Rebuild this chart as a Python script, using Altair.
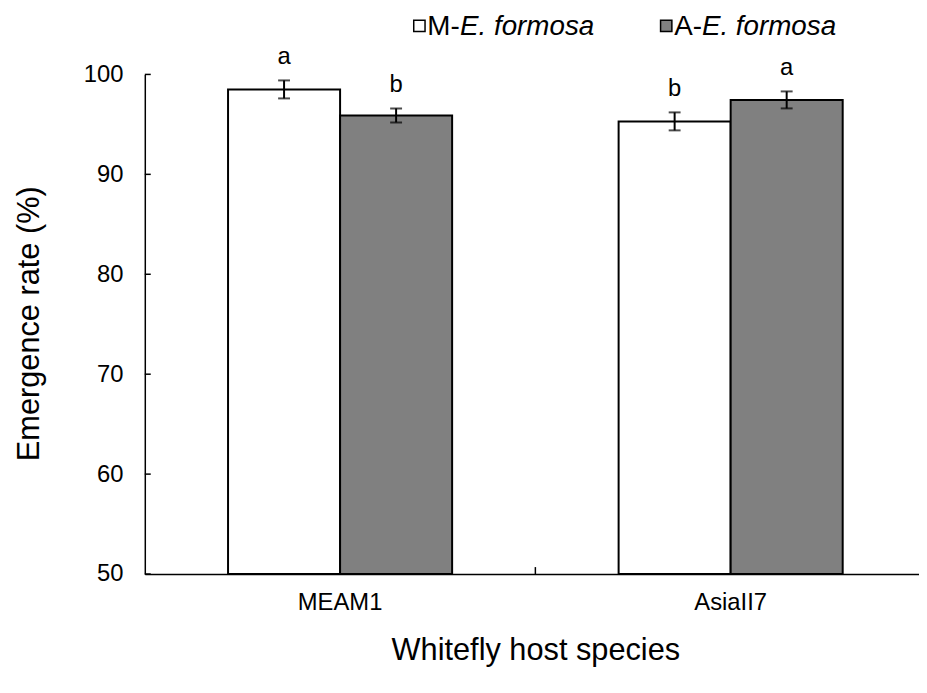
import altair as alt
import pandas as pd

hosts = ["MEAM1", "AsiaII7"]
strains = ["M-E. formosa", "A-E. formosa"]
host_col = ["MEAM1", "MEAM1", "AsiaII7", "AsiaII7"]
strain_col = ["M-E. formosa", "A-E. formosa", "M-E. formosa", "A-E. formosa"]
means = [98.5, 95.9, 95.3, 97.45]
errs = [0.9, 0.7, 0.9, 0.85]
letters = ["a", "b", "b", "a"]
y_ticks = [50, 60, 70, 80, 90, 100]
fills = ["white", "#808080"]
leg_prefix = ["M-", "A-"]
leg_species = ["E. formosa", "E. formosa"]

FONT = "Liberation Sans"

df = pd.DataFrame({
    "host": host_col,
    "strain": strain_col,
    "mean": means,
    "err": errs,
    "letter": letters,
})
df["lo"] = df["mean"] - df["err"]
df["hi"] = df["mean"] + df["err"]
df["base"] = 50

W, H = 773, 504
RANGE_W = 788

xs = alt.Scale(domain=hosts, range=[0, RANGE_W], paddingInner=0, paddingOuter=0)
xo = alt.Scale(domain=strains, paddingInner=0, paddingOuter=0.743)
ys = alt.Scale(domain=[50, 100], zero=False, nice=False)

x_enc = alt.X("host:N", scale=xs, sort=hosts,
              axis=alt.Axis(title="Whitefly host species", labelAngle=0, labelFontSize=24,
                            labelPadding=17, ticks=False, tickSize=0, domainColor="black",
                            domainWidth=1.5, labelColor="black", labelFont=FONT,
                            titleFont=FONT, titleFontSize=31, titleFontWeight="normal",
                            titleColor="black", titleX=394, titleY=77,
                            titleBaseline="middle", titleAlign="center"))
xo_enc = alt.XOffset("strain:N", scale=xo, sort=strains)

base = alt.Chart(df)

bars = base.mark_bar(stroke="black", strokeWidth=2).encode(
    x=x_enc,
    xOffset=xo_enc,
    y=alt.Y("mean:Q", scale=ys,
            axis=alt.Axis(title="Emergence rate (%)", values=y_ticks, grid=False,
                          ticks=False, tickSize=0, labelFontSize=24, labelPadding=22,
                          domainColor="black", domainWidth=1.5, labelColor="black",
                          labelFont=FONT, titleFont=FONT, titleFontSize=31,
                          titleFontWeight="normal", titleColor="black",
                          titleX=-116, titleY=251, titleAngle=-90,
                          titleBaseline="middle", titleAlign="center")),
    y2=alt.Y2("base:Q"),
    fill=alt.Fill("strain:N", scale=alt.Scale(domain=strains, range=fills), legend=None),
)

err_rule = base.mark_rule(color="black", strokeWidth=2).encode(
    x=alt.X("host:N", scale=xs, sort=hosts),
    xOffset=xo_enc,
    y=alt.Y("lo:Q", scale=ys),
    y2="hi:Q",
)
cap_lo = base.mark_tick(color="black", thickness=2, size=12, orient="horizontal").encode(
    x=alt.X("host:N", scale=xs, sort=hosts),
    xOffset=xo_enc,
    y=alt.Y("lo:Q", scale=ys),
)
cap_hi = base.mark_tick(color="black", thickness=2, size=12, orient="horizontal").encode(
    x=alt.X("host:N", scale=xs, sort=hosts),
    xOffset=xo_enc,
    y=alt.Y("hi:Q", scale=ys),
)
letter_txt = base.mark_text(font=FONT, fontSize=24, color="black", baseline="alphabetic",
                            dy=-17).encode(
    x=alt.X("host:N", scale=xs, sort=hosts),
    xOffset=xo_enc,
    y=alt.Y("hi:Q", scale=ys),
    text="letter:N",
)

# inward y-axis ticks
ytick_df = pd.DataFrame({"v": y_ticks})
ytick_rules = alt.Chart(ytick_df).mark_rule(color="black", strokeWidth=1.5).encode(
    y=alt.Y("v:Q", scale=ys),
    x=alt.value(0),
    x2=alt.value(6),
)
# inward x-axis tick at the category boundary
xtick_rule = alt.Chart(pd.DataFrame({"k": [0]})).mark_rule(color="black", strokeWidth=1.5).encode(
    x=alt.value(394), y=alt.value(H), y2=alt.value(H - 7),
)

# manual legend (square + plain prefix + italic species name)
leg_layers = []
sq_x = [277, 526]
prefix_w = [33, 28]
LEG_Y = -49
for i in range(2):
    ldf = pd.DataFrame({"p": [leg_prefix[i]], "s": [leg_species[i]]})
    sq = alt.Chart(ldf).mark_square(size=130, filled=True, stroke="black", strokeWidth=1.5,
                                   fill=fills[i], opacity=1).encode(
        x=alt.value(sq_x[i]), y=alt.value(LEG_Y))
    t1 = alt.Chart(ldf).mark_text(font=FONT, fontSize=28, color="black", align="left",
                                 baseline="middle").encode(
        x=alt.value(sq_x[i] + 8), y=alt.value(LEG_Y + 1), text="p:N")
    t2 = alt.Chart(ldf).mark_text(font=FONT, fontSize=28, color="black", align="left",
                                 baseline="middle", fontStyle="italic").encode(
        x=alt.value(sq_x[i] + 8 + prefix_w[i]), y=alt.value(LEG_Y + 1), text="s:N")
    leg_layers += [sq, t1, t2]

chart = alt.layer(bars, err_rule, cap_lo, cap_hi, letter_txt, ytick_rules, xtick_rule,
                  *leg_layers).properties(
    width=W, height=H,
    autosize=alt.AutoSizeParams(type="none"),
    padding={"left": 138, "top": 64, "right": 8, "bottom": 117},
).configure(font=FONT).configure_view(stroke=None)

chart.save("out.html", embed_options={"renderer": "svg", "actions": False})
